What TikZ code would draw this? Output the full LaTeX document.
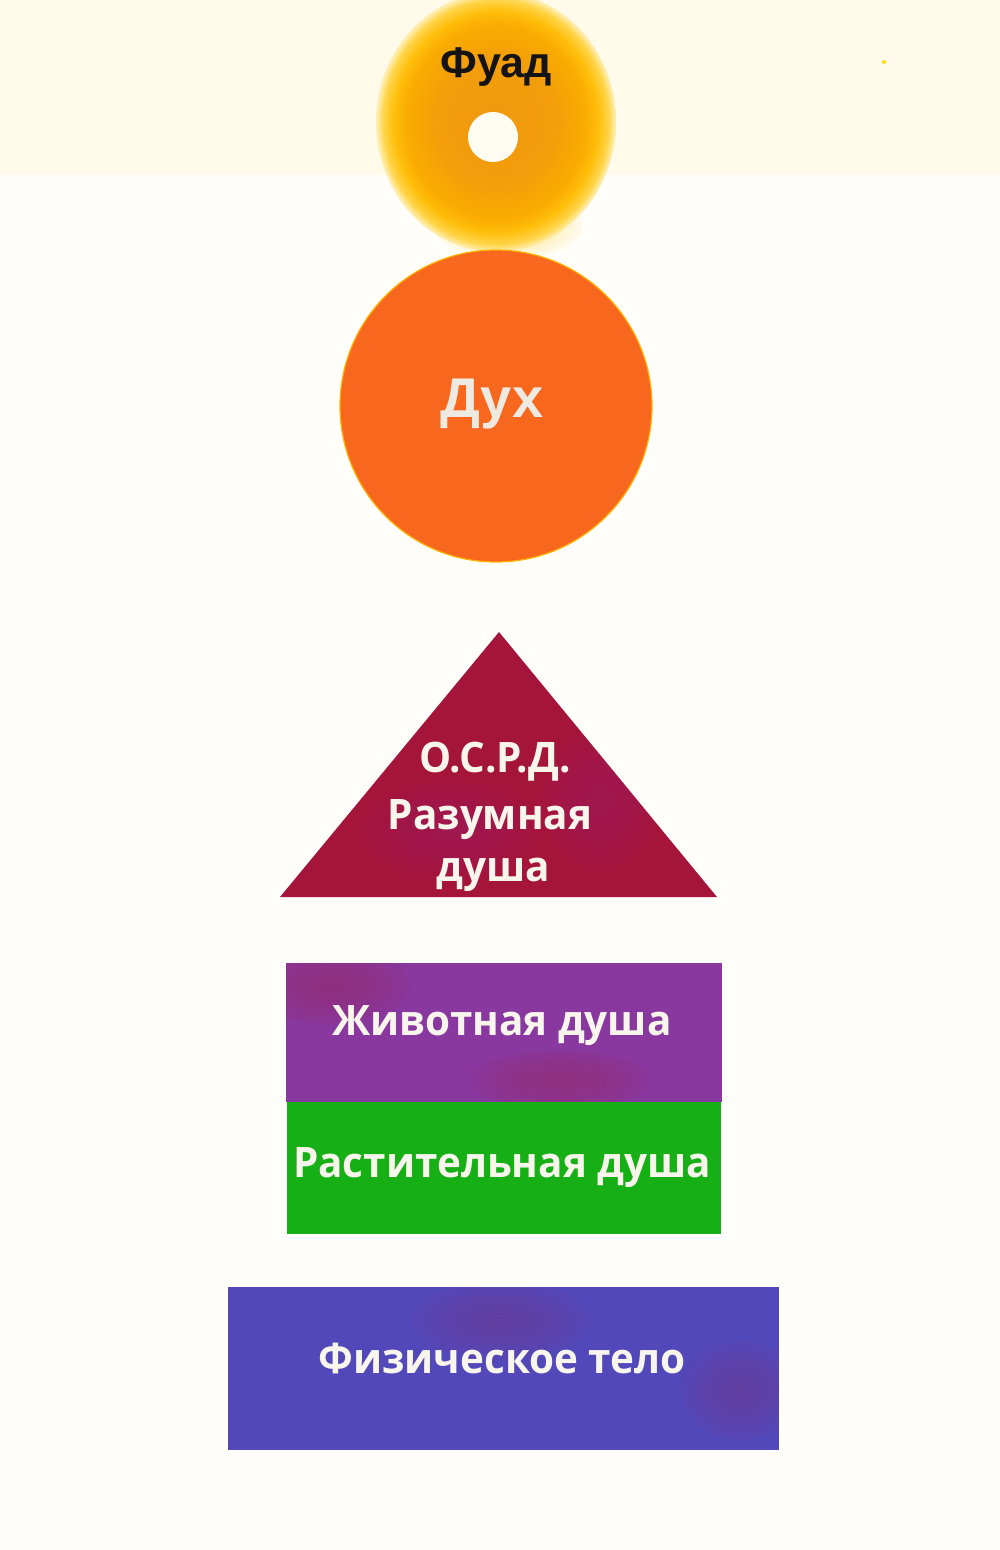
\documentclass[tikz,border=0pt]{standalone}
\usepackage{fontspec}
\usetikzlibrary{fadings}
\newfontfamily\arialb[]{Liberation Sans}
\newfontfamily\myriad[]{Open Sans}
\definecolor{bgwhite}{RGB}{255,254,250}
\definecolor{bgband}{RGB}{255,250,234}
\definecolor{dukhcol}{RGB}{247,104,30}
\definecolor{tricol}{RGB}{165,20,58}
\definecolor{animcol}{RGB}{136,56,158}
\definecolor{plantcol}{RGB}{22,176,22}
\definecolor{bodycol}{RGB}{82,72,186}
\definecolor{lbl}{RGB}{248,245,236}
\definecolor{dukhlbl}{RGB}{238,234,226}
\definecolor{dotcol}{RGB}{255,253,242}
\definecolor{mottlepurple}{RGB}{150,30,120}
\definecolor{mottlered}{RGB}{160,30,70}
\pgfdeclareradialshading{glowshade}{\pgfpoint{0bp}{0bp}}{%
  color(0bp)=(rgb,255:red,240;green,152;blue,14);
  color(12.5bp)=(rgb,255:red,243;green,158;blue,10);
  color(18.75bp)=(rgb,255:red,250;green,172;blue,0);
  color(21.25bp)=(rgb,255:red,255;green,190;blue,10);
  color(23.75bp)=(rgb,255:red,255;green,215;blue,80);
  color(25bp)=(rgb,255:red,255;green,235;blue,160);
  color(50bp)=(rgb,255:red,255;green,235;blue,160)}
\pgfdeclareradialshading{glowfadeshade}{\pgfpoint{0bp}{0bp}}{%
  color(0bp)=(white);
  color(23.3bp)=(white);
  color(25.9bp)=(black!50!white);
  color(28.2bp)=(black);
  color(50bp)=(black)}
\pgfdeclarefading{glowfade}{\pgfuseshading{glowfadeshade}}
\pgfdeclareradialshading{tailshade}{\pgfpoint{0bp}{0bp}}{%
  color(0bp)=(rgb,255:red,255;green,205;blue,40);
  color(25bp)=(rgb,255:red,255;green,230;blue,130);
  color(50bp)=(rgb,255:red,255;green,230;blue,130)}
\pgfdeclareradialshading{softfadeshade}{\pgfpoint{0bp}{0bp}}{%
  color(0bp)=(black!30!white);
  color(14bp)=(black!55!white);
  color(28bp)=(black);
  color(50bp)=(black)}
\pgfdeclarefading{softfade}{\pgfuseshading{softfadeshade}}
\tikzset{
  lab/.style={text=lbl, font=\myriad\bfseries\fontsize{42}{50}\selectfont, anchor=base, inner sep=0pt},
  mottle/.style={fill=#1, path fading=softfade, fill opacity=0.5},
}
\newcommand{\nx}[1]{\scalebox{0.962}[1]{#1}}
\begin{document}
\begin{tikzpicture}[x=1pt,y=-1pt]
\useasboundingbox (0,0) rectangle (1000,1550);
\fill[bgwhite] (0,0) rectangle (1000,1550);
\fill[bgband] (0,0) rectangle (1000,175);
% glow of Fuad
\shade[shading=tailshade, path fading=softfade] (508,225) ellipse (75 and 35);
\shade[shading=glowshade, path fading=glowfade] (496,122) ellipse (120 and 130);
\fill[dotcol] (493,137) circle (25);
\node[font=\arialb\bfseries\fontsize{43}{50}\selectfont, text=black!92, anchor=base, inner sep=0pt] (fuad) at (496,77) {Фуад};
% Dukh
\fill[dukhcol, draw=orange!60!yellow, line width=1.2pt] (496,406) circle (156);
\node[font=\arialb\bfseries\fontsize{56}{60}\selectfont, text=dukhlbl, anchor=base, inner sep=0pt] (dukh) at (492,417) {Дух};
% Triangle
\fill[tricol] (499,632) -- (717,897) -- (280,897) -- cycle;
\begin{scope}
\clip (499,632) -- (717,897) -- (280,897) -- cycle;
\fill[mottle=mottlepurple] (450,830) ellipse (90 and 50);
\fill[mottle=mottlepurple] (600,800) ellipse (60 and 70);
\end{scope}
\node[lab] (osrdA) at (495,772) {\nx{О.С.Р.Д.}};
\node[lab] (osrdB) at (490,829) {\nx{Разумная}};
\node[lab] (osrdC) at (493,881) {\nx{душа}};
% Rectangles
\fill[animcol] (286,963) rectangle (722,1102);
\begin{scope}
\clip (286,963) rectangle (722,1102);
\fill[mottle=mottlered] (330,985) ellipse (80 and 40);
\fill[mottle=mottlered] (560,1080) ellipse (90 and 30);
\end{scope}
\node[lab] (animal) at (502,1035) {\nx{Животная душа}};
\fill[plantcol] (287,1102) rectangle (721,1234);
\node[lab] (plant) at (502,1177) {\nx{Растительная душа}};
\fill[bodycol] (228,1287) rectangle (779,1450);
\begin{scope}
\clip (228,1287) rectangle (779,1450);
\fill[mottle=mottlered, fill opacity=0.3] (500,1320) ellipse (90 and 40);
\fill[mottle=mottlered, fill opacity=0.3] (740,1390) ellipse (60 and 50);
\end{scope}
\node[lab] (body) at (502,1373) {\nx{Физическое тело}};
\fill[yellow!80!orange] (884,62) circle (2);
\end{tikzpicture}
\end{document}
